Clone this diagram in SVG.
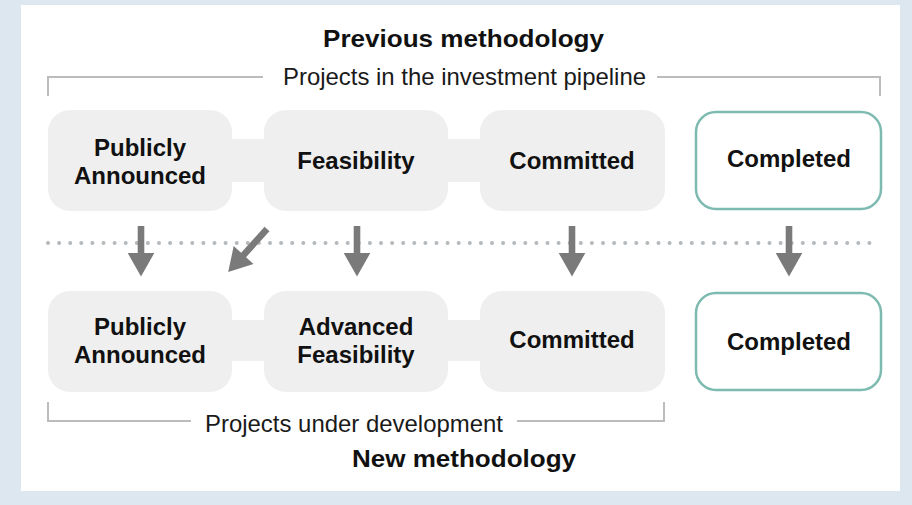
<svg xmlns="http://www.w3.org/2000/svg" width="912" height="505" viewBox="0 0 912 505">
<style>
.box{fill:#efefef;}
.done{fill:#ffffff;stroke:#7dbab0;stroke-width:2.5;}
.lbl{font-family:"Liberation Sans",Arial,sans-serif;font-weight:bold;font-size:24px;fill:#111;text-anchor:middle;}
.ttl{font-family:"Liberation Sans",Arial,sans-serif;font-weight:bold;font-size:24px;fill:#111;}
.sub{font-family:"Liberation Sans",Arial,sans-serif;font-size:24px;fill:#1a1a1a;}
.brk{fill:none;stroke:#bcbcbc;stroke-width:2;}
.arr{fill:#7a7a7a;}
.band{fill:#efefef;}
</style>
<defs>
<path id="adown" d="M-3.3,0 L3.3,0 L3.3,27 L13.3,27 L0,50.5 L-13.3,27 L-3.3,27 Z"/>
<path id="adiag" d="M-3.3,0 L3.3,0 L3.3,35 L13.3,35 L0,58 L-13.3,35 L-3.3,35 Z"/>
</defs>
<rect x="0" y="0" width="912" height="505" fill="#dde7f0"/>
<rect x="21" y="5" width="879" height="486" fill="#ffffff"/>

<g id="titles">
<text class="ttl" x="323" y="47" textLength="281" lengthAdjust="spacingAndGlyphs">Previous methodology</text>
<text class="ttl" x="352" y="467" textLength="224" lengthAdjust="spacingAndGlyphs">New methodology</text>
</g>

<g id="bracket-top">
<path class="brk" d="M48,96 V77 H263"/>
<path class="brk" d="M657,77 H880 V96"/>
<text class="sub" x="283" y="85" textLength="363" lengthAdjust="spacingAndGlyphs">Projects in the investment pipeline</text>
</g>
<g id="bracket-bottom">
<path class="brk" d="M48,402 V421 H191"/>
<path class="brk" d="M517,421 H664 V402"/>
<text class="sub" x="205" y="432" textLength="298" lengthAdjust="spacingAndGlyphs">Projects under development</text>
</g>

<g id="connectors">
<rect class="band" x="225" y="139" width="265" height="43"/>
<rect class="band" x="440" y="139" width="50" height="43"/>
<rect class="band" x="225" y="320" width="265" height="41"/>
<line x1="48" y1="243" x2="880" y2="243" stroke="#b4b9bd" stroke-width="4" stroke-linecap="round" stroke-dasharray="0 11.1"/>
<use href="#adown" class="arr" transform="translate(141,226)"/>
<use href="#adiag" class="arr" transform="translate(267,229) rotate(42)"/>
<use href="#adown" class="arr" transform="translate(357,226)"/>
<use href="#adown" class="arr" transform="translate(572,226)"/>
<use href="#adown" class="arr" transform="translate(789,226)"/>
</g>

<g id="prev-announced">
<rect class="box" x="48" y="110" width="184" height="101" rx="22"/>
<text class="lbl" x="140" y="156">Publicly</text>
<text class="lbl" x="140" y="184">Announced</text>
</g>
<g id="prev-feasibility">
<rect class="box" x="264" y="110" width="184" height="101" rx="22"/>
<text class="lbl" x="356" y="169">Feasibility</text>
</g>
<g id="prev-committed">
<rect class="box" x="480" y="110" width="185" height="101" rx="22"/>
<text class="lbl" x="572" y="169">Committed</text>
</g>
<g id="prev-completed">
<rect class="done" x="696" y="112" width="185" height="97" rx="20"/>
<text class="lbl" x="789" y="167">Completed</text>
</g>

<g id="new-announced">
<rect class="box" x="48" y="291" width="184" height="101" rx="22"/>
<text class="lbl" x="140" y="335">Publicly</text>
<text class="lbl" x="140" y="363">Announced</text>
</g>
<g id="new-advanced-feasibility">
<rect class="box" x="264" y="291" width="184" height="101" rx="22"/>
<text class="lbl" x="356" y="335">Advanced</text>
<text class="lbl" x="356" y="363">Feasibility</text>
</g>
<g id="new-committed">
<rect class="box" x="480" y="291" width="185" height="101" rx="22"/>
<text class="lbl" x="572" y="348">Committed</text>
</g>
<g id="new-completed">
<rect class="done" x="696" y="293" width="185" height="97" rx="20"/>
<text class="lbl" x="789" y="350">Completed</text>
</g>
</svg>
